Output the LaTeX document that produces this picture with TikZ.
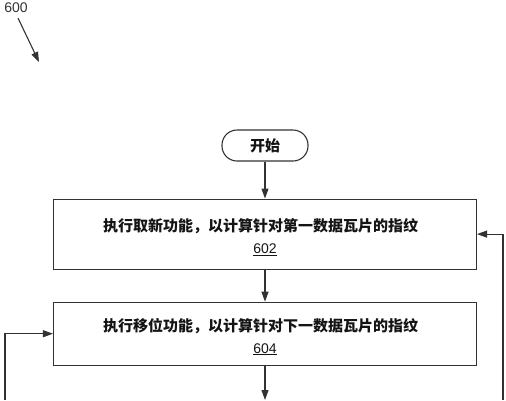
\documentclass[tikz,border=0pt]{standalone}
\usepackage{fontspec}
\setmainfont{Liberation Sans}
\newfontfamily\cjk{Noto Sans CJK SC}
\usetikzlibrary{
  arrows.meta,
  positioning
}
\definecolor{flowink}{RGB}{50,50,50}
\definecolor{textink}{RGB}{20,20,20}
\tikzset{
  startnode/.style={draw=flowink,line width=1.1pt,rounded corners=15pt,
    minimum width=86pt,minimum height=31pt,inner sep=0pt,text=textink,
    font=\cjk\bfseries\fontsize{15}{18}\selectfont},
  stepbox/.style={draw=flowink,line width=1.1pt,minimum width=423pt,
    align=center,inner sep=0pt,text=textink,
    font=\fontsize{15}{22}\selectfont},
  flow/.style={-{Triangle[length=10pt,width=7pt]},line width=1.1pt,draw=flowink},
  reflab/.style={font=\fontsize{14}{16}\selectfont,text=flowink,inner sep=0pt}
}
\newcommand{\stepref}[1]{{\fontsize{14}{22}\selectfont\underline{#1}}}
\newcommand{\steptext}[1]{\rule{0pt}{19pt}\hspace*{-9pt}{\cjk\bfseries #1}}

\begin{document}
\begin{tikzpicture}[x=1pt,y=-1pt,node distance=37pt]
  \useasboundingbox (0,0) rectangle (506,400);
  \node[reflab] (fig) at (16,8) {600};
  \coordinate (figtail) at (18,18);
  \coordinate (figtip) at (39,62);
  \draw[flow] (figtail)--(figtip);
  \node[startnode] (start) at (265,145.5) {开始};
  \node[stepbox,minimum height=70pt,below=of start] (fetch)
    {\steptext{执行取新功能，以计算针对第一数据瓦片的指纹}\\\stepref{602}};
  \node[stepbox,minimum height=63pt,below=32pt of fetch] (shift)
    {\steptext{执行移位功能，以计算针对下一数据瓦片的指纹}\\\stepref{604}};
  \coordinate (down) at (265,400);
  \coordinate (lback) at (5,400);
  \coordinate (rback) at (503,400);
  \draw[flow] (start)--(fetch);
  \draw[flow] (fetch)--(shift);
  \draw[flow] (shift)--(down);
  \draw[flow] (lback)|-(shift.west);
  \draw[flow] (rback)|-(fetch.east);
\end{tikzpicture}
\end{document}
